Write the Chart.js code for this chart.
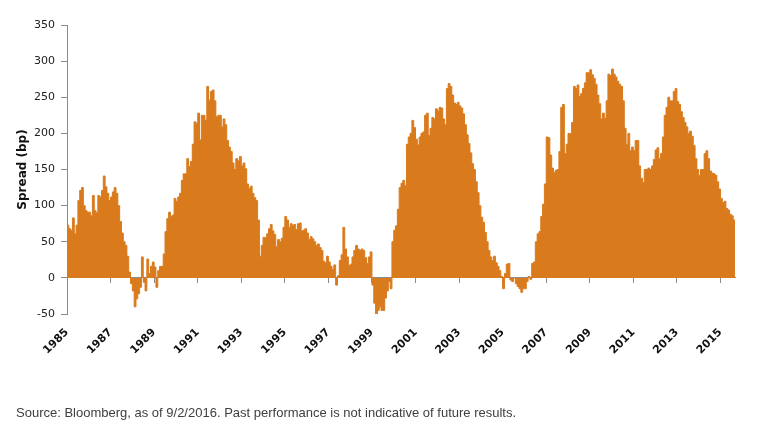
<!DOCTYPE html>
<html>
<head>
<meta charset="utf-8">
<script src="https://cdn.jsdelivr.net/npm/chart.js@4.4.0/dist/chart.umd.min.js"></script>
<style>
  body { margin: 0; background: #fff; }
  #wrap { position: relative; width: 762px; height: 431px; }
  #source {
    position: absolute; left: 16px; top: 405px;
    font: 13px "Liberation Sans", Arial, sans-serif; color: #404040;
  }
</style>
</head>
<body>
<div id="wrap">
  <canvas id="spreadChart" width="762" height="431"></canvas>
  <div id="source">Source: Bloomberg, as of 9/2/2016. Past performance is not indicative of future results.</div>
</div>
<script>
// monthly spread (bp), starting January 1985
const startYear = 1985;
const spread1985s = [
  110, 73, 68, 66, 83, 61, 73, 107, 121, 125, 100, 93,
  91, 91, 86, 114, 93, 90, 114, 112, 121, 141, 126, 117,
  107, 112, 119, 125, 117, 100, 78, 62, 50, 45, 30, 8,
  -8, -18, -40, -29, -22, -13, 29, -6, -18, 26, 6, 16,
  22, 15, -13, 10, 16, 16, 33, 64, 82, 91, 85, 87
];
const spread1990s = [
  110, 106, 112, 117, 135, 144, 144, 165, 154, 161, 185, 216,
  214, 228, 191, 225, 225, 218, 265, 246, 258, 260, 245, 223,
  225, 225, 209, 220, 212, 190, 181, 175, 159, 150, 165, 162,
  168, 155, 159, 151, 130, 124, 127, 117, 111, 107, 80, 30,
  45, 56, 56, 61, 68, 74, 65, 60, 43, 53, 50, 55,
  70, 85, 80, 70, 75, 73, 74, 67, 75, 76, 65, 66,
  68, 62, 53, 57, 54, 50, 45, 47, 42, 38, 23, 21,
  30, 22, 16, 12, 18, -10, 3, 24, 32, 70, 40, 29,
  17, 19, 29, 38, 45, 40, 38, 40, 38, 28, 20, 29,
  36, -10, -35, -50, -45, -40, -45, -45, -28, -18, -5, -15
];
const spread2000s = [
  50, 66, 72, 95, 125, 131, 135, 128, 185, 195, 200, 218,
  208, 192, 184, 195, 200, 202, 225, 228, 197, 207, 222, 220,
  234, 231, 236, 235, 220, 212, 262, 269, 265, 253, 242, 240,
  243, 238, 235, 227, 212, 198, 186, 173, 158, 150, 133, 118,
  100, 84, 77, 63, 50, 38, 29, 24, 30, 21, 16, 10,
  2, -15, 6, 19, 20, -3, -5, 0, -8, -12, -15, -20,
  -15, -15, -5, 2, -2, 20, 22, 50, 61, 64, 85, 102,
  130, 195, 194, 170, 152, 146, 149, 150, 175, 236, 240, 172,
  185, 200, 200, 215, 265, 262, 267, 251, 255, 262, 270, 284,
  284, 288, 281, 276, 268, 253, 241, 220, 228, 221, 245, 282
];
const spread2010s = [
  280, 289, 282, 278, 272, 268, 265, 245, 207, 185, 200, 176,
  181, 176, 190, 190, 155, 138, 132, 150, 150, 152, 150, 155,
  164, 177, 180, 165, 172, 195, 225, 236, 250, 245, 245, 258,
  262, 244, 240, 230, 222, 215, 209, 200, 203, 196, 183, 165,
  150, 142, 150, 150, 172, 176, 165, 148, 145, 144, 142, 133,
  123, 110, 104, 106, 96, 94, 88, 86, 80
];
const tickYears = [1985, 1987, 1989, 1991, 1993, 1995, 1997, 1999, 2001, 2003, 2005, 2007, 2009, 2011, 2013, 2015];

const spreadBp = spread1985s.concat(spread1990s, spread2000s, spread2010s);
const points = spreadBp.map((v, i) => ({ x: startYear + i / 12, y: v }));
const lastX = startYear + (spreadBp.length - 1) / 12;

const orange = '#d97b1d';
const axisGrey = '#8c8c8c';
const setYearTicks = scale => { scale.ticks = tickYears.map(v => ({ value: v })); };

const ctx = document.getElementById('spreadChart').getContext('2d');
new Chart(ctx, {
  type: 'line',
  data: {
    datasets: [{
      data: points,
      fill: 'origin',
      backgroundColor: orange,
      borderColor: orange,
      borderWidth: 1,
      pointRadius: 0,
      stepped: 'after'
    }]
  },
  options: {
    responsive: false,
    animation: false,
    layout: { padding: { left: 16, right: 27, top: 25, bottom: 62 } },
    plugins: { legend: { display: false }, tooltip: { enabled: false } },
    scales: {
      x: {
        type: 'linear',
        position: { y: 0 },
        min: startYear,
        max: lastX,
        afterBuildTicks: setYearTicks,
        ticks: { display: false },
        grid: { drawOnChartArea: false, drawTicks: true, tickLength: 5, color: axisGrey },
        border: { display: true, color: axisGrey }
      },
      x2: {
        type: 'linear',
        position: 'bottom',
        min: startYear,
        max: lastX,
        afterBuildTicks: setYearTicks,
        grid: { display: false, drawTicks: false },
        border: { display: false },
        ticks: {
          autoSkip: false,
          minRotation: 45,
          maxRotation: 45,
          padding: 12,
          color: '#111',
          font: { family: 'DejaVu Sans', size: 11, weight: 'bold' },
          callback: v => String(v)
        }
      },
      y: {
        min: -50,
        max: 350,
        ticks: {
          stepSize: 50,
          padding: 6,
          color: '#222',
          font: { family: 'DejaVu Sans', size: 11 }
        },
        grid: { drawOnChartArea: false, drawTicks: true, tickLength: 6, color: axisGrey },
        border: { display: true, color: axisGrey },
        title: {
          display: true,
          text: 'Spread (bp)',
          color: '#111',
          padding: { top: 0, bottom: 4 },
          font: { family: 'DejaVu Sans', size: 12, weight: 'bold' }
        },
        afterFit: scale => { scale.width = 51; }
      }
    }
  }
});
</script>
</body>
</html>
